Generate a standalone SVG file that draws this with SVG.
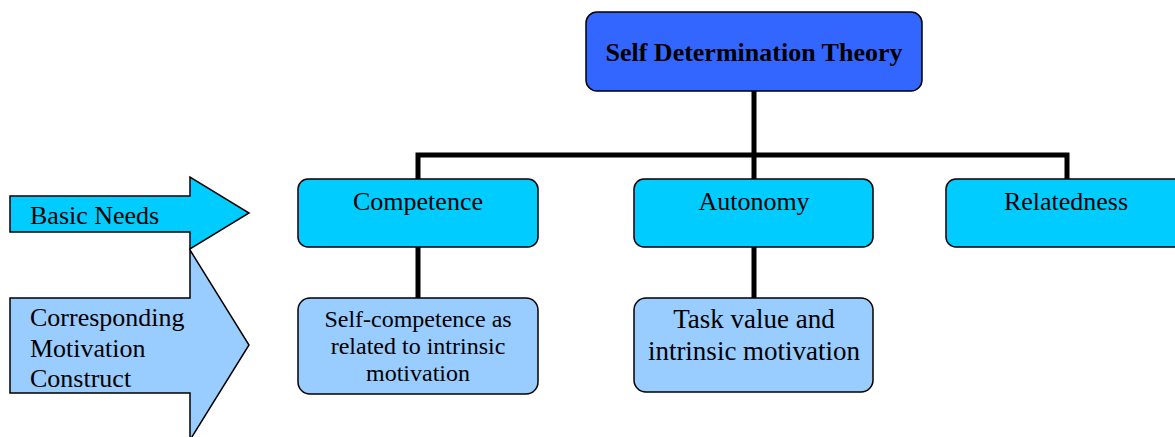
<svg xmlns="http://www.w3.org/2000/svg" width="1175" height="437" viewBox="0 0 1175 437">
<style>
.box{stroke:#000;stroke-width:1.5}
.need{fill:#00CCFF}
.mot{fill:#99CCFF}
.top{fill:#3366FF}
.conn{stroke:#000;stroke-width:5;fill:none}
</style>
<rect width="1175" height="437" fill="#fff"/>
<g id="connectors">
<path class="conn" d="M754 91V298M418 179V155H1067V179M418 247V298"/>
</g>
<g id="arrow-basic-needs">
<path class="box need" d="M10 196H190V177L249 213L190 249V232H10Z"/>
<text x="30" y="224" font-family="Liberation Serif" font-size="26">Basic Needs</text>
</g>
<g id="arrow-motivation">
<path class="box mot" d="M10 298H190V250L249 345L190 440V393H10Z"/>
<text x="30" y="326" font-family="Liberation Serif" font-size="26">Corresponding</text>
<text x="30" y="357" font-family="Liberation Serif" font-size="26">Motivation</text>
<text x="30" y="387" font-family="Liberation Serif" font-size="26">Construct</text>
</g>
<g id="sdt">
<rect class="box top" x="586" y="12" width="336" height="79" rx="11"/>
<text x="754" y="61" text-anchor="middle" font-family="Liberation Serif" font-size="26" font-weight="bold">Self Determination Theory</text>
</g>
<g id="competence">
<rect class="box need" x="298" y="179" width="240" height="68" rx="10"/>
<text x="418" y="210" text-anchor="middle" font-family="Liberation Serif" font-size="26">Competence</text>
</g>
<g id="autonomy">
<rect class="box need" x="634" y="179" width="239" height="68" rx="10"/>
<text x="754" y="210" text-anchor="middle" font-family="Liberation Serif" font-size="26">Autonomy</text>
</g>
<g id="relatedness">
<rect class="box need" x="946" y="179" width="240" height="68" rx="10"/>
<text x="1066" y="210" text-anchor="middle" font-family="Liberation Serif" font-size="26">Relatedness</text>
</g>
<g id="self-competence">
<rect class="box mot" x="298" y="298" width="240" height="96" rx="12"/>
<text x="418" y="327" text-anchor="middle" font-family="Liberation Serif" font-size="24">Self-competence as</text>
<text x="418" y="354" text-anchor="middle" font-family="Liberation Serif" font-size="24">related to intrinsic</text>
<text x="418" y="381" text-anchor="middle" font-family="Liberation Serif" font-size="24">motivation</text>
</g>
<g id="task-value">
<rect class="box mot" x="634" y="298" width="239" height="94" rx="12"/>
<text x="754" y="328" text-anchor="middle" font-family="Liberation Serif" font-size="27">Task value and</text>
<text x="754" y="360" text-anchor="middle" font-family="Liberation Serif" font-size="27">intrinsic motivation</text>
</g>
</svg>
